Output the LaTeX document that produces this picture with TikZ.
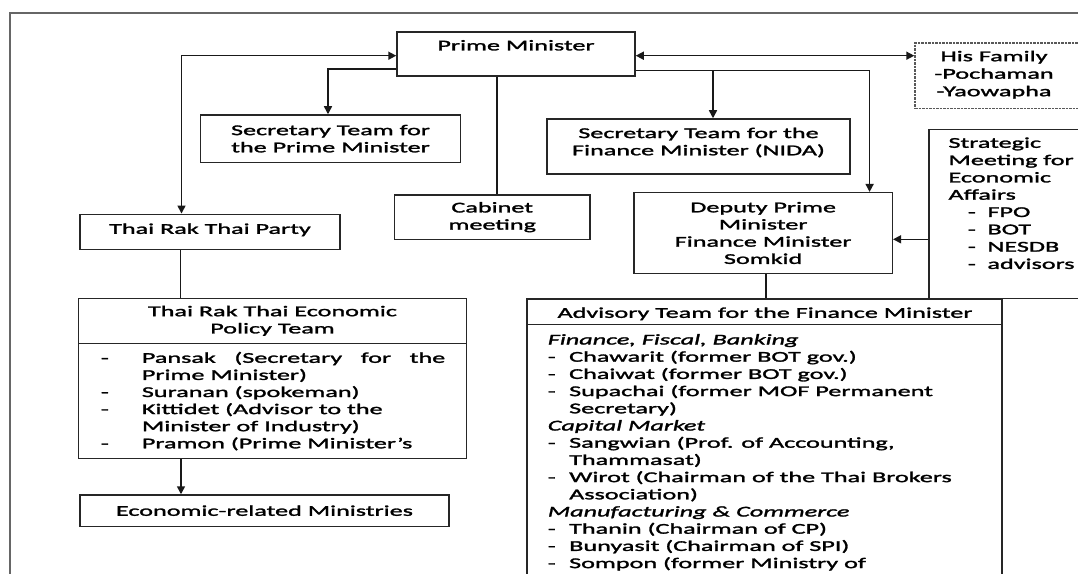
\documentclass[tikz,border=0pt]{standalone}
\usepackage{fontspec}
\setmainfont[FakeStretch=1.75,FakeBold=1.8]{Carlito}
\usetikzlibrary{arrows.meta}
\newcommand{\dg}{\fontsize{14.95bp}{17.2bp}\selectfont}
\newcommand{\da}{\makebox[21.4bp][l]{-}}
\newcommand{\ia}{\hspace*{21.4bp}}
\newcommand{\de}{\makebox[41bp][l]{-}}
\newcommand{\ie}{\hspace*{41bp}}
\newcommand{\ds}{\hspace*{19.4bp}\makebox[19.6bp][l]{-}}
\begin{document}
\begin{tikzpicture}[x=1bp,y=-1bp,
  box/.style={draw=black!85,line width=1.5bp,inner sep=0pt,align=center,font=\dg},
  dbox/.style={draw=black!65,line width=1.4bp,dash pattern=on 2.5bp off 1bp,inner sep=0pt},
  txt/.style={inner sep=0pt,font=\dg,align=center},
  conn/.style={line width=1.5bp,black!90},
  arr/.style={conn,-{Triangle[length=8bp,width=8bp]}},
  darr/.style={conn,{Triangle[length=8bp,width=8bp]}-{Triangle[length=8bp,width=8bp]}}]
\useasboundingbox (0,0) rectangle (1078,574);
\clip (0,0) rectangle (1078,574);
\fill[white] (0,0) rectangle (1078,574);
\draw[black!60,line width=1.6bp] (10,574) -- (10,13.3) -- (1078,13.3);

% boxes
\node[box,minimum width=238bp,minimum height=44bp] (pm) at (516,54) {};
\node[txt,anchor=base] (pmt) at (516,50.4) {Prime Minister};
\node[box,minimum width=260bp,minimum height=47.3bp] (secpm) at (330.5,138.65) {Secretary Team for\\the Prime Minister};
\node[box,minimum width=195.5bp,minimum height=44.3bp] (cab) at (492.25,217.15) {Cabinet\\meeting};
\node[box,minimum width=260bp,minimum height=35bp] (trt) at (210,231.8) {};
\node[txt,anchor=base] (trtt) at (210,233.8) {Thai Rak Thai Party};
\node[box,minimum width=303bp,minimum height=55bp] (secfin) at (698.5,146.5) {};
\node[txt] (sft) at (698.5,142.5) {Secretary Team for the\\Finance Minister (NIDA)};
\node[dbox,minimum width=180bp,minimum height=65.3bp] (hf) at (1005,75.65) {};
\foreach \t [count=\i from 0] in {His Family,-Pochaman,-Yaowapha}
  \node[txt,anchor=base] (hft\i) at (994,{61.2+17.5*\i}) {\t};
\node[box,minimum width=166bp,minimum height=169bp] (strat) at (1012,213.8) {};
\foreach \t [count=\i from 0] in {Strategic,Meeting for,Economic,Affairs,\ds FPO,\ds BOT,\ds NESDB,\ds advisors}
  \node[txt,anchor=base west] (st\i) at (948.3,{147.8+17.3*\i}) {\t};
\node[box,minimum width=258.3bp,minimum height=80.6bp] (dep) at (763.15,233) {Deputy Prime\\Minister\\Finance Minister\\Somkid};
\node[box,minimum width=475bp,minimum height=25.3bp] (advh) at (764.5,311.65) {};
\node[txt,anchor=base] (advt) at (765,317.8) {Advisory Team for the Finance Minister};
\node[box,minimum width=475bp,minimum height=275.7bp] (advb) at (764.5,462.15) {};
\foreach \t [count=\i from 0] in {
  {\textit{Finance, Fiscal, Banking}},
  {\da Chawarit (former BOT gov.)},
  {\da Chaiwat (former BOT gov.)},
  {\da Supachai (former MOF Permanent},
  {\ia Secretary)},
  {\textit{Capital Market}},
  {\da Sangwian (Prof. of Accounting,},
  {\ia Thammasat)},
  {\da Wirot (Chairman of the Thai Brokers},
  {\ia Association)},
  {\textit{Manufacturing \& Commerce}},
  {\da Thanin (Chairman of CP)},
  {\da Bunyasit (Chairman of SPI)},
  {\da Sompon (former Ministry of}}
  \node[txt,anchor=base west] (ad\i) at (547.6,{344.5+17.2*\i}) {\t};
\node[box,minimum width=388bp,minimum height=45bp] (econh) at (272.5,320.8) {Thai Rak Thai Economic\\Policy Team};
\node[box,minimum width=388bp,minimum height=115bp] (econb) at (272.5,400.8) {};
\foreach \t [count=\i from 0] in {
  {\de\hbox to 303.3bp{Pansak\hfill(Secretary\hfill for\hfill the}},
  {\ie Prime Minister)},
  {\de Suranan (spokeman)},
  {\de Kittidet (Advisor to the},
  {\ie Minister of Industry)},
  {\de Pramon (Prime Minister’s}}
  \node[txt,anchor=base west] (ec\i) at (100.7,{362.8+17.1*\i}) {\t};
\node[box,minimum width=369bp,minimum height=31.3bp] (min) at (264.5,510.65) {Economic-related Ministries};

% connectors
\coordinate (pmL1) at ([yshift=-1.7bp]pm.west);
\coordinate (trtA) at ([xshift=-28.5bp]trt.north);
\draw[darr] (pmL1) -| (trtA);
\coordinate (pmL2) at ([yshift=-15bp]pm.west);
\coordinate (spA) at ([xshift=-2.5bp]secpm.north);
\draw[arr] (pmL2) -| (spA);
\coordinate (cabA) at ([xshift=4.75bp]cab.north);
\draw[conn] (pm.south -| cabA) -- (cabA);
\coordinate (pmR1) at ([yshift=-1.7bp]pm.east);
\draw[darr] (pmR1) -- (pmR1 -| hf.west);
\coordinate (pmR2) at ([yshift=-16.7bp]pm.east);
\coordinate (depA) at ([xshift=106.45bp]dep.north);
\draw[arr] (pmR2) -| (depA);
\coordinate (sfA) at ([xshift=14.5bp]secfin.north);
\draw[arr] (pmR2 -| sfA) -- (sfA);
\coordinate (depB) at ([yshift=-6.3bp]dep.east);
\draw[arr] (depB -| strat.west) -- (depB);
\coordinate (depC) at ([xshift=2.85bp]dep.south);
\draw[conn] (depC) -- (depC |- advh.north);
\coordinate (trtB) at ([xshift=-29.5bp]trt.south);
\draw[conn] (trtB) -- (trtB |- econh.north);
\coordinate (minA) at ([xshift=-83.5bp]min.north);
\draw[arr] (econb.south -| minA) -- (minA);
\end{tikzpicture}
\end{document}
